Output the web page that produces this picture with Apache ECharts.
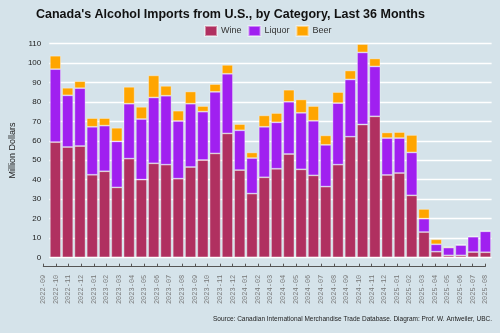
<!DOCTYPE html>
<html>
<head>
<meta charset="utf-8">
<script src="https://cdn.jsdelivr.net/npm/echarts@6/dist/echarts.min.js"></script>
<style>
  html, body { margin: 0; padding: 0; background: #d5e3ea; }
  #chart { width: 500px; height: 333px; }
</style>
</head>
<body>
<div id="chart"></div>
<script>
// Monthly import values, million dollars
const months = [
  '2022-09','2022-10','2022-11','2022-12','2023-01','2023-02','2023-03','2023-04',
  '2023-05','2023-06','2023-07','2023-08','2023-09','2023-10','2023-11','2023-12',
  '2024-01','2024-02','2024-03','2024-04','2024-05','2024-06','2024-07','2024-08',
  '2024-09','2024-10','2024-11','2024-12','2025-01','2025-02','2025-03','2025-04',
  '2025-05','2025-06','2025-07','2025-08'
];
const wine = [
  59.3, 56.8, 57.3, 42.5, 44.3, 36.0, 50.8, 40.0,
  48.4, 47.7, 40.5, 46.5, 50.1, 53.5, 63.8, 44.9,
  32.8, 41.2, 45.6, 53.2, 45.3, 42.2, 36.4, 47.7,
  62.1, 68.4, 72.6, 42.4, 43.4, 31.9, 13.0, 2.9,
  1.0, 1.0, 2.7, 2.6
];
const liquor = [
  37.6, 26.6, 29.8, 24.7, 23.5, 23.7, 28.3, 31.2,
  33.9, 35.5, 29.7, 32.6, 24.9, 31.7, 30.7, 20.5,
  18.3, 26.0, 23.9, 26.9, 29.1, 28.1, 21.5, 31.7,
  29.5, 37.1, 25.7, 19.0, 18.0, 22.1, 6.9, 3.8,
  4.0, 5.3, 7.9, 10.8
];
const beer = [
  6.9, 3.9, 3.6, 4.5, 3.9, 7.0, 8.7, 6.3,
  11.4, 5.1, 5.3, 6.3, 2.9, 4.0, 4.6, 3.2,
  2.9, 5.9, 4.8, 6.2, 6.9, 7.6, 4.9, 5.7,
  4.6, 4.3, 4.1, 2.9, 3.1, 9.0, 5.0, 2.6,
  0.5, 0.4, 0.4, 0.3
];
const yTicks = { min: 0, max: 110, step: 10 };

const FONT = '"Liberation Sans", Arial, sans-serif';
const segBorder = { borderColor: 'rgba(255,255,255,0.45)', borderWidth: 0.8 };

const chart = echarts.init(document.getElementById('chart'), null, { renderer: 'canvas' });

chart.setOption({
  backgroundColor: '#d5e3ea',
  animation: false,
  textStyle: { fontFamily: FONT },
  title: [
    {
      text: "Canada's Alcohol Imports from U.S., by Category, Last 36 Months",
      left: 36, top: 8, padding: 0,
      textStyle: { fontSize: 12.5, fontWeight: 'bold', color: '#111', fontFamily: FONT }
    },
    {
      text: 'Source: Canadian International Merchandise Trade Database. Diagram: Prof. W. Antweiler, UBC.',
      right: 8, top: 316, padding: 0,
      textStyle: { fontSize: 6.5, fontWeight: 'normal', color: '#222', fontFamily: FONT }
    }
  ],
  legend: {
    top: 25, left: 204,
    padding: 0,
    icon: 'rect',
    itemWidth: 12, itemHeight: 10, itemGap: 6,
    textStyle: { fontSize: 9, color: '#333', padding: [0, 0, 0, -1] },
    data: ['Wine', 'Liquor', 'Beer']
  },
  grid: [
    { left: 37, right: 8.4, top: 43.7, bottom: 75.7, containLabel: false },
    // separate strip carrying the month axis, offset below the plot
    { left: 43.3, right: 14.7, top: 265.7, height: 1, containLabel: false }
  ],
  xAxis: [
    {
      gridIndex: 0, type: 'category', data: months,
      axisLine: { show: false }, axisTick: { show: false }, axisLabel: { show: false },
      splitLine: { show: false }
    },
    {
      gridIndex: 1, type: 'category', data: months, boundaryGap: false, position: 'bottom',
      axisLine: { show: true, lineStyle: { color: '#555', width: 1 } },
      axisTick: { show: true, inside: true, length: 3, lineStyle: { color: '#555', width: 1 } },
      axisLabel: {
        rotate: 90, margin: 8, interval: 0,
        fontFamily: '"Liberation Mono", "DejaVu Sans Mono", monospace',
        fontSize: 7, color: '#777'
      },
      splitLine: { show: false }
    }
  ],
  yAxis: [
    {
      gridIndex: 0, type: 'value',
      min: yTicks.min, max: yTicks.max, interval: yTicks.step,
      name: 'Million Dollars', nameLocation: 'middle', nameGap: 22,
      nameTextStyle: { fontSize: 9, color: '#222' },
      axisLine: { show: false }, axisTick: { show: false },
      axisLabel: { fontSize: 8, color: '#222', margin: 8 },
      splitLine: { show: true, lineStyle: { color: '#ffffff', width: 1.3 } }
    },
    { gridIndex: 1, type: 'value', show: false }
  ],
  series: [
    {
      name: 'Wine', type: 'bar', stack: 'total', data: wine,
      xAxisIndex: 0, yAxisIndex: 0, barCategoryGap: '10%',
      itemStyle: Object.assign({ color: '#b03060' }, segBorder)
    },
    {
      name: 'Liquor', type: 'bar', stack: 'total', data: liquor,
      xAxisIndex: 0, yAxisIndex: 0, barCategoryGap: '10%',
      itemStyle: Object.assign({ color: '#a020f0' }, segBorder)
    },
    {
      name: 'Beer', type: 'bar', stack: 'total', data: beer,
      xAxisIndex: 0, yAxisIndex: 0, barCategoryGap: '10%',
      itemStyle: Object.assign({ color: '#ffa500' }, segBorder)
    }
  ]
});
</script>
</body>
</html>
